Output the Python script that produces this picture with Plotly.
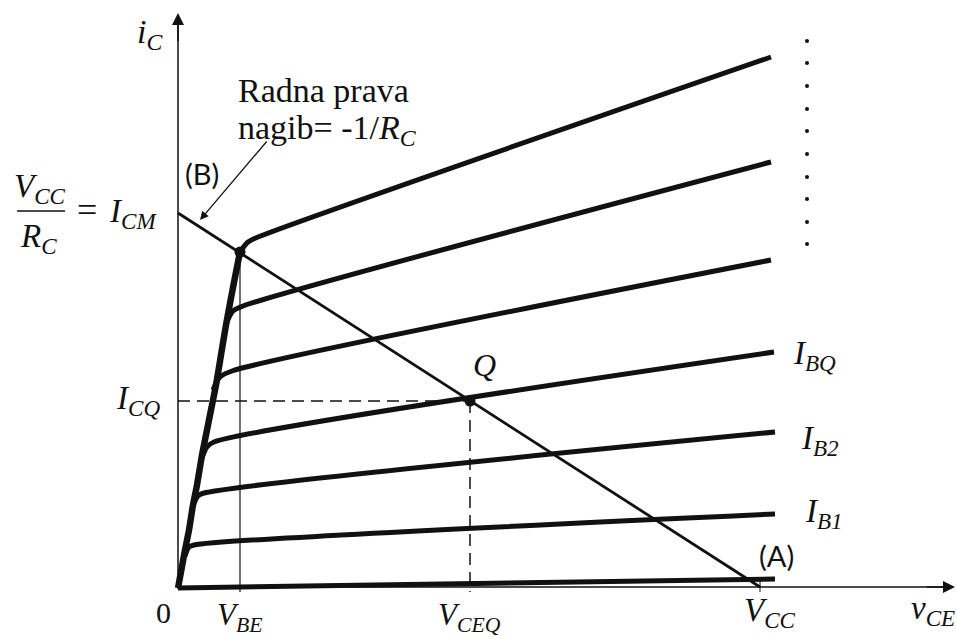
import plotly.graph_objects as go

# ---- data (arbitrary schematic units: origin at 0,0) ----
# saturation envelope
ENV_X = [0, 3, 7, 11, 15, 19, 24, 28, 33, 38, 43, 48, 53, 58, 62]
ENV_Y = [-1, 15, 37, 57, 82, 102, 132, 152, 177, 202, 232, 262, 289, 315, 335]

# output characteristics (start on envelope, knee, end)
CURVES = {
    "I_B6": ([62, 70, 80, 593], [335, 345, 350, 530]),
    "I_B5": ([48, 55, 65, 593], [263, 276, 281, 425]),
    "I_B4": ([35, 42, 54, 593], [197, 210, 216, 327]),
    "I_BQ": ([24, 29, 36, 596], [129, 140, 145, 235]),
    "I_B2": ([15, 20, 26, 597], [81, 91, 94, 155]),
    "I_B1": ([7, 11, 16, 597], [31, 40, 42, 73]),
    "I_B0": ([0, 597], [-1, 8]),
}

# load line: I_CM on the i_C axis to V_CC on the v_CE axis
I_CM = 374
V_CC = 582
LOAD_X = [0, V_CC]
LOAD_Y = [I_CM, 0]

# operating points
Q_X, Q_Y = 292, 186
SAT_X, SAT_Y = 62, 335
V_BE = 62

# continuation dots
DOTS_X = [629] * 10
DOTS_Y = [546, 524, 501, 478, 456, 433, 410, 388, 365, 343]

X_MAX, Y_MAX = 777, 574

INK = "#111111"
SERIF = "Liberation Serif"
SANS = "Lato"

fig = go.Figure()

# envelope
fig.add_trace(go.Scatter(x=ENV_X, y=ENV_Y, mode="lines",
                         line=dict(color=INK, width=6.5, shape="spline", smoothing=0.6),
                         hoverinfo="skip"))
for name, (xs, ys) in CURVES.items():
    fig.add_trace(go.Scatter(x=xs, y=ys, mode="lines", name=name,
                             line=dict(color=INK, width=5, shape="spline", smoothing=0.8),
                             hoverinfo="skip"))

# load line
fig.add_trace(go.Scatter(x=LOAD_X, y=LOAD_Y, mode="lines",
                         line=dict(color=INK, width=2.8), hoverinfo="skip"))

# V_BE thin line
fig.add_trace(go.Scatter(x=[V_BE, V_BE], y=[SAT_Y, -5], mode="lines",
                         line=dict(color=INK, width=1.2), hoverinfo="skip"))
# dashed lines to Q
fig.add_trace(go.Scatter(x=[0, Q_X], y=[Q_Y, Q_Y], mode="lines",
                         line=dict(color=INK, width=1.5, dash="12px,7px"), hoverinfo="skip"))
fig.add_trace(go.Scatter(x=[Q_X, Q_X], y=[Q_Y, -5], mode="lines",
                         line=dict(color=INK, width=1.5, dash="12px,7px"), hoverinfo="skip"))
# V_CC tick
fig.add_trace(go.Scatter(x=[V_CC, V_CC], y=[6, -5], mode="lines",
                         line=dict(color=INK, width=1), hoverinfo="skip"))

# points
fig.add_trace(go.Scatter(x=[SAT_X, Q_X], y=[SAT_Y, Q_Y], mode="markers",
                         marker=dict(color=INK, size=11), hoverinfo="skip"))
fig.add_trace(go.Scatter(x=DOTS_X, y=DOTS_Y, mode="markers",
                         marker=dict(color=INK, size=4), hoverinfo="skip"))

# axes lines
fig.add_trace(go.Scatter(x=[0, 0], y=[-2, Y_MAX - 10], mode="lines",
                         line=dict(color=INK, width=1.5), hoverinfo="skip"))
fig.add_trace(go.Scatter(x=[0, X_MAX - 10], y=[0, 0], mode="lines",
                         line=dict(color=INK, width=1.5), hoverinfo="skip"))

ann = []
# axis arrowheads
ann.append(dict(x=0, y=Y_MAX, ax=0, ay=Y_MAX - 30, xref="x", yref="y", axref="x", ayref="y",
                showarrow=True, arrowhead=2, arrowsize=1.6, arrowwidth=1.5, arrowcolor=INK, text=""))
ann.append(dict(x=X_MAX, y=0, ax=X_MAX - 30, ay=0, xref="x", yref="y", axref="x", ayref="y",
                showarrow=True, arrowhead=2, arrowsize=1.6, arrowwidth=1.5, arrowcolor=INK, text=""))
# pointer to load line
ann.append(dict(x=22, y=367, ax=90, ay=447, xref="x", yref="y", axref="x", ayref="y",
                showarrow=True, arrowhead=2, arrowsize=1.3, arrowwidth=1.3, arrowcolor=INK, text=""))


def txt(x, y, s, size=30, family=SERIF, xanchor="center"):
    ann.append(dict(x=x, y=y, text=s, showarrow=False, xref="x", yref="y",
                    xanchor=xanchor, yanchor="middle",
                    font=dict(family=family, size=size, color=INK)))


txt(-28, 553, "<i>i<sub>C</sub></i>", 34)
txt(58, 497, "Radna prava", 34, xanchor="left")
txt(58, 457, "nagib= -1/<i>R<sub>C</sub></i>", 34, xanchor="left")
txt(24, 414, "(B)", 29, SANS)
txt(-138, 399, "<i>V<sub>CC</sub></i>", 33)
txt(-140, 349, "<i>R<sub>C</sub></i>", 33)
txt(-91, 377, "=", 36)
txt(-45, 374, "<i>I<sub>CM</sub></i>", 33)
txt(-40, 187, "<i>I<sub>CQ</sub></i>", 33)
txt(-15, -25, "0", 30)
txt(61, -30, "<i>V<sub>BE</sub></i>", 31)
txt(291, -30, "<i>V<sub>CEQ</sub></i>", 31)
txt(592, -25, "<i>V<sub>CC</sub></i>", 33)
txt(755, -23, "<i>v<sub>CE</sub></i>", 33)
txt(306, 222, "<i>Q</i>", 32)
txt(636, 232, "<i>I<sub>BQ</sub></i>", 33)
txt(642, 147, "<i>I<sub>B2</sub></i>", 33)
txt(646, 74, "<i>I<sub>B1</sub></i>", 33)
txt(598, 32, "(A)", 29, SANS)

fig.update_layout(
    width=957, height=639,
    margin=dict(l=0, r=0, t=0, b=0),
    paper_bgcolor="white", plot_bgcolor="white",
    showlegend=False,
    xaxis=dict(range=[-178, 779], visible=False, fixedrange=True),
    yaxis=dict(range=[-52, 587], visible=False, fixedrange=True),
    annotations=ann,
    shapes=[dict(type="line", xref="x", yref="y", x0=-161, x1=-113, y0=376, y1=376,
                 line=dict(color=INK, width=1.5))],
)

fig.write_html("out.html", config={"displayModeBar": False},
               post_script="document.body.style.margin='0';document.body.style.overflow='hidden';")
